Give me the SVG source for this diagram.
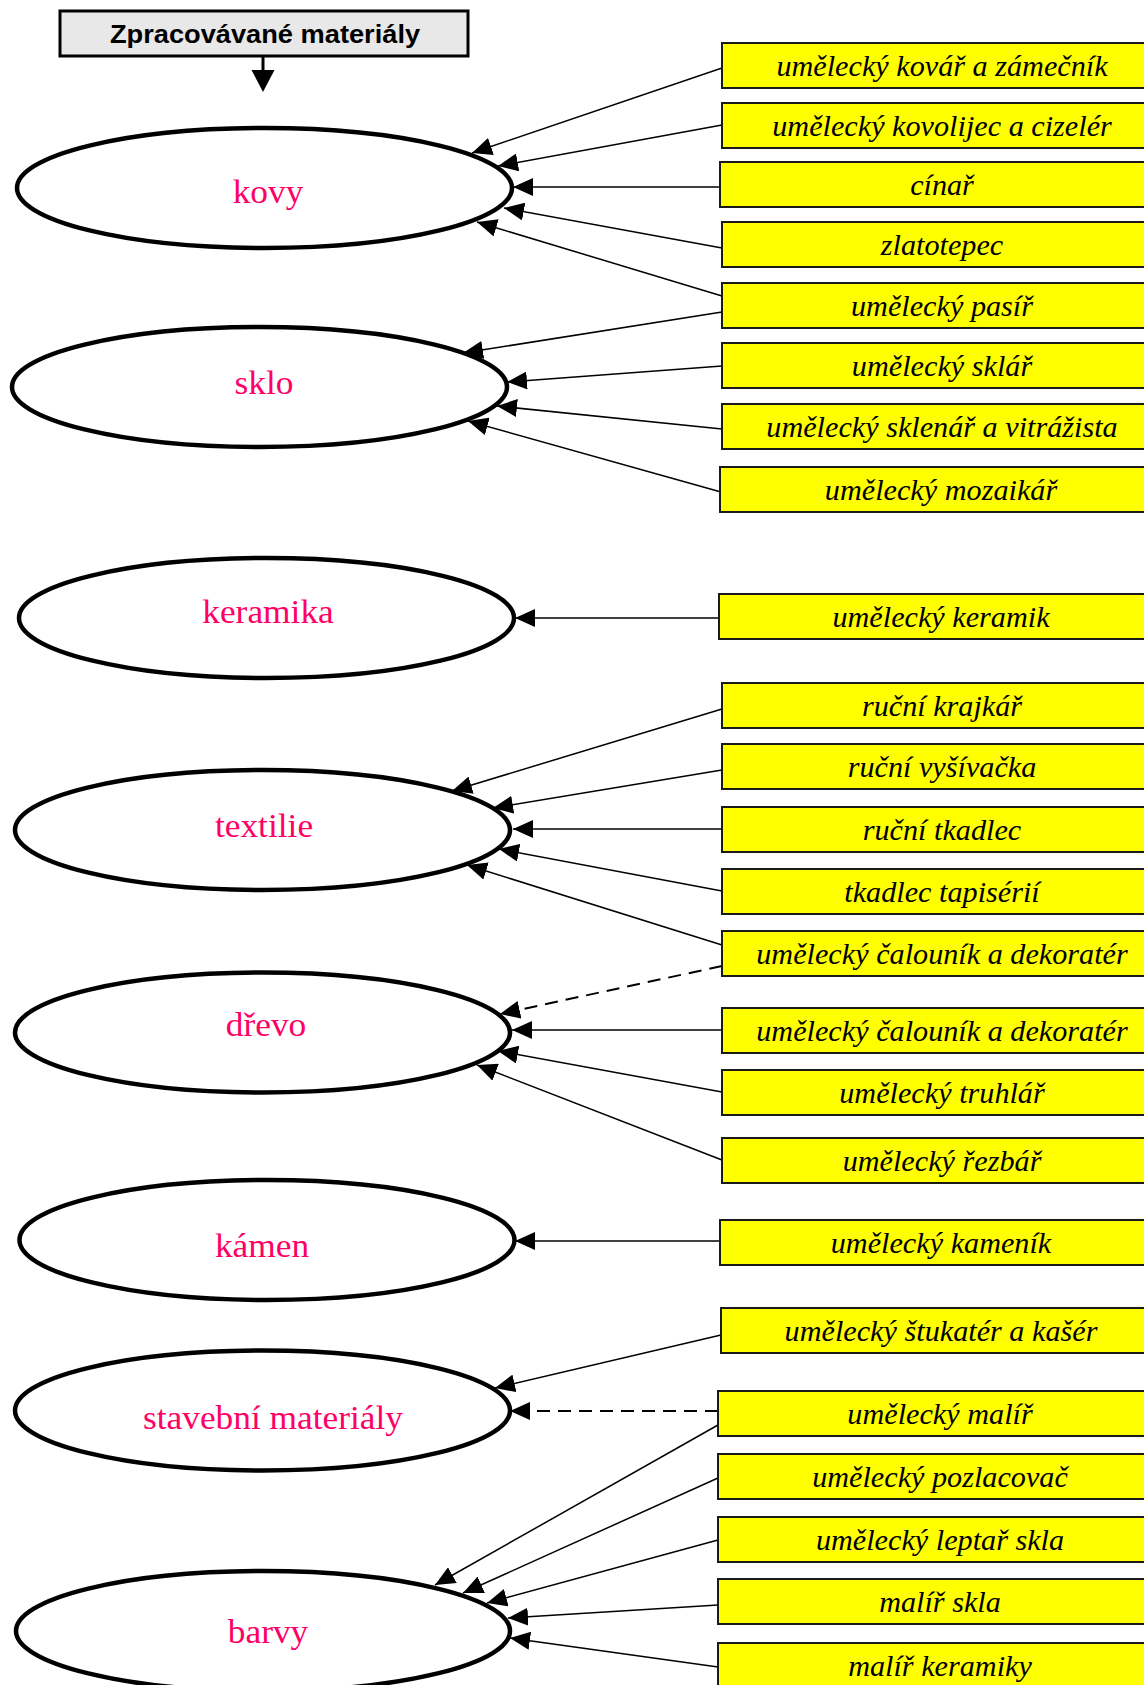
<svg xmlns="http://www.w3.org/2000/svg" width="1144" height="1685" viewBox="0 0 1144 1685">
<style>
.ell{fill:#fff;stroke:#000;stroke-width:4.5}
.et{font-family:"Liberation Serif","Times New Roman",serif;font-size:34px;fill:#ff0066;text-anchor:middle}
.box{fill:#ffff00;stroke:#1a1a1a;stroke-width:2}
.bt{font-family:"Liberation Serif","Times New Roman",serif;font-style:italic;font-size:28.5px;fill:#000;text-anchor:middle}
.c{stroke:#000;stroke-width:1.5;fill:none;marker-end:url(#ah)}
.d{stroke:#000;stroke-width:2;fill:none;stroke-dasharray:13 8;marker-end:url(#ah)}
</style>
<defs>
<marker id="ah" markerUnits="userSpaceOnUse" markerWidth="20" markerHeight="18" refX="20" refY="9" orient="auto" viewBox="0 0 20 18">
<path d="M0,0 L20,9 L0,18 Z" fill="#000"/>
</marker>
</defs>

<g id="header">
<rect x="60" y="11" width="408" height="45" fill="#e8e8e8" stroke="#000" stroke-width="3"/>
<text transform="translate(265,43) scale(1.09,1)" style="font-family:'Liberation Sans',Arial,sans-serif;font-weight:bold;font-size:25px;text-anchor:middle">Zpracovávané materiály</text>
<line x1="263" y1="56" x2="263" y2="72" stroke="#000" stroke-width="3"/>
<path d="M251.5,70 L274.5,70 L263,92 Z" fill="#000"/>
</g>

<g id="connectors">
<line class="c" x1="722" y1="68" x2="472" y2="153"/>
<line class="c" x1="722" y1="125" x2="498" y2="166"/>
<line class="c" x1="721" y1="187" x2="513" y2="187"/>
<line class="c" x1="722" y1="248" x2="504" y2="208"/>
<line class="c" x1="722" y1="296" x2="477" y2="222"/>
<line class="c" x1="722" y1="312" x2="463" y2="353"/>
<line class="c" x1="722" y1="366" x2="507" y2="382"/>
<line class="c" x1="722" y1="429" x2="497" y2="406"/>
<line class="c" x1="721" y1="492" x2="468" y2="421"/>
<line class="c" x1="719" y1="618" x2="515" y2="618"/>
<line class="c" x1="722" y1="709" x2="452" y2="791"/>
<line class="c" x1="722" y1="770" x2="493" y2="808"/>
<line class="c" x1="722" y1="829" x2="513" y2="829"/>
<line class="c" x1="722" y1="891" x2="499" y2="849"/>
<line class="c" x1="722" y1="945" x2="467" y2="865"/>
<line class="d" x1="722" y1="966" x2="500" y2="1014"/>
<line class="c" x1="722" y1="1030" x2="512" y2="1030"/>
<line class="c" x1="722" y1="1092" x2="498" y2="1051"/>
<line class="c" x1="722" y1="1160" x2="477" y2="1065"/>
<line class="c" x1="720" y1="1241" x2="515" y2="1241"/>
<line class="c" x1="721" y1="1335" x2="495" y2="1388"/>
<line class="d" x1="718" y1="1411" x2="510" y2="1411"/>
<line class="c" x1="718" y1="1425" x2="435" y2="1585"/>
<line class="c" x1="718" y1="1478" x2="463" y2="1593"/>
<line class="c" x1="718" y1="1540" x2="487" y2="1603"/>
<line class="c" x1="718" y1="1605" x2="508" y2="1618"/>
<line class="c" x1="718" y1="1667" x2="510" y2="1638"/>
</g>

<g id="kovy"><ellipse class="ell" cx="264.5" cy="188" rx="247.5" ry="60"/><text class="et" transform="translate(268,203) scale(1.04,1)">kovy</text></g>
<g id="sklo"><ellipse class="ell" cx="259.5" cy="387" rx="247.5" ry="60"/><text class="et" transform="translate(264,394) scale(1.04,1)">sklo</text></g>
<g id="keramika"><ellipse class="ell" cx="266.5" cy="618" rx="247.5" ry="60"/><text class="et" transform="translate(268,623) scale(1.04,1)">keramika</text></g>
<g id="textilie"><ellipse class="ell" cx="262.5" cy="830" rx="247.5" ry="60"/><text class="et" transform="translate(264,837) scale(1.04,1)">textilie</text></g>
<g id="drevo"><ellipse class="ell" cx="262.5" cy="1032.5" rx="247.5" ry="60"/><text class="et" transform="translate(266,1036) scale(1.04,1)">dřevo</text></g>
<g id="kamen"><ellipse class="ell" cx="267" cy="1240" rx="247.5" ry="60"/><text class="et" transform="translate(262,1257) scale(1.04,1)">kámen</text></g>
<g id="stavebni"><ellipse class="ell" cx="262.5" cy="1410.5" rx="247.5" ry="60"/><text class="et" transform="translate(273,1429) scale(1.04,1)">stavební materiály</text></g>
<g id="barvy"><ellipse class="ell" cx="263" cy="1631" rx="247" ry="60"/><text class="et" transform="translate(268,1643) scale(1.04,1)">barvy</text></g>

<g id="b1"><rect class="box" x="722" y="43" width="430" height="45"/><text class="bt" transform="translate(942,76) scale(1.06,1)">umělecký kovář a zámečník</text></g>
<g id="b2"><rect class="box" x="722" y="103" width="430" height="45"/><text class="bt" transform="translate(942,136) scale(1.06,1)">umělecký kovolijec a cizelér</text></g>
<g id="b3"><rect class="box" x="720" y="162" width="430" height="45"/><text class="bt" transform="translate(942,195) scale(1.06,1)">cínař</text></g>
<g id="b4"><rect class="box" x="722" y="222" width="430" height="45"/><text class="bt" transform="translate(942,255) scale(1.06,1)">zlatotepec</text></g>
<g id="b5"><rect class="box" x="722" y="283" width="430" height="45"/><text class="bt" transform="translate(942,316) scale(1.06,1)">umělecký pasíř</text></g>
<g id="b6"><rect class="box" x="722" y="343" width="430" height="45"/><text class="bt" transform="translate(942,376) scale(1.06,1)">umělecký sklář</text></g>
<g id="b7"><rect class="box" x="722" y="404" width="430" height="45"/><text class="bt" transform="translate(942,437) scale(1.06,1)">umělecký sklenář a vitrážista</text></g>
<g id="b8"><rect class="box" x="720" y="467" width="430" height="45"/><text class="bt" transform="translate(941,500) scale(1.06,1)">umělecký mozaikář</text></g>
<g id="b9"><rect class="box" x="719" y="594" width="430" height="45"/><text class="bt" transform="translate(941,627) scale(1.06,1)">umělecký keramik</text></g>
<g id="b10"><rect class="box" x="722" y="683" width="430" height="45"/><text class="bt" transform="translate(942,716) scale(1.06,1)">ruční krajkář</text></g>
<g id="b11"><rect class="box" x="722" y="744" width="430" height="45"/><text class="bt" transform="translate(942,777) scale(1.06,1)">ruční vyšívačka</text></g>
<g id="b12"><rect class="box" x="722" y="807" width="430" height="45"/><text class="bt" transform="translate(942,840) scale(1.06,1)">ruční tkadlec</text></g>
<g id="b13"><rect class="box" x="722" y="869" width="430" height="45"/><text class="bt" transform="translate(942,902) scale(1.06,1)">tkadlec tapisérií</text></g>
<g id="b14"><rect class="box" x="722" y="931" width="430" height="45"/><text class="bt" transform="translate(942,964) scale(1.06,1)">umělecký čalouník a dekoratér</text></g>
<g id="b15"><rect class="box" x="722" y="1008" width="430" height="45"/><text class="bt" transform="translate(942,1041) scale(1.06,1)">umělecký čalouník a dekoratér</text></g>
<g id="b16"><rect class="box" x="722" y="1070" width="430" height="45"/><text class="bt" transform="translate(942,1103) scale(1.06,1)">umělecký truhlář</text></g>
<g id="b17"><rect class="box" x="722" y="1138" width="430" height="45"/><text class="bt" transform="translate(942,1171) scale(1.06,1)">umělecký řezbář</text></g>
<g id="b18"><rect class="box" x="720" y="1220" width="430" height="45"/><text class="bt" transform="translate(941,1253) scale(1.06,1)">umělecký kameník</text></g>
<g id="b19"><rect class="box" x="721" y="1308" width="430" height="45"/><text class="bt" transform="translate(941,1341) scale(1.06,1)">umělecký štukatér a kašér</text></g>
<g id="b20"><rect class="box" x="718" y="1391" width="430" height="45"/><text class="bt" transform="translate(940,1424) scale(1.06,1)">umělecký malíř</text></g>
<g id="b21"><rect class="box" x="718" y="1454" width="430" height="45"/><text class="bt" transform="translate(940,1487) scale(1.06,1)">umělecký pozlacovač</text></g>
<g id="b22"><rect class="box" x="718" y="1517" width="430" height="45"/><text class="bt" transform="translate(940,1550) scale(1.06,1)">umělecký leptař skla</text></g>
<g id="b23"><rect class="box" x="718" y="1579" width="430" height="45"/><text class="bt" transform="translate(940,1612) scale(1.06,1)">malíř skla</text></g>
<g id="b24"><rect class="box" x="718" y="1643" width="430" height="45"/><text class="bt" transform="translate(940,1676) scale(1.06,1)">malíř keramiky</text></g>
</svg>
